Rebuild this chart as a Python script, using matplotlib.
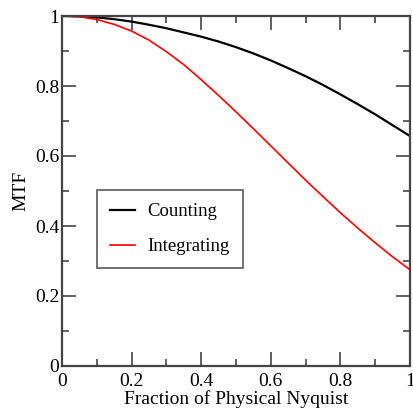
import matplotlib
matplotlib.use("Agg")
import matplotlib.pyplot as plt
from matplotlib.ticker import MultipleLocator

x = [0.0, 0.05, 0.1, 0.15, 0.2, 0.25, 0.3, 0.35, 0.4, 0.45, 0.5,
     0.55, 0.6, 0.65, 0.7, 0.75, 0.8, 0.85, 0.9, 0.95, 1.0]
counting = [1.0, 0.999, 0.996, 0.991, 0.984, 0.975, 0.965, 0.953, 0.941, 0.927, 0.911,
            0.893, 0.873, 0.851, 0.828, 0.803, 0.776, 0.748, 0.719, 0.688, 0.657]
integrating = [1.0, 0.998, 0.99, 0.976, 0.957, 0.931, 0.898, 0.861, 0.818, 0.773, 0.726,
               0.678, 0.629, 0.58, 0.531, 0.484, 0.438, 0.394, 0.352, 0.312, 0.275]
series_labels = ["Counting", "Integrating"]
xlabel = "Fraction of Physical Nyquist"
ylabel = "MTF"
ticks = [0, 0.2, 0.4, 0.6, 0.8, 1]
tick_labels = ["0", "0.2", "0.4", "0.6", "0.8", "1"]

plt.rcParams['font.family'] = ['Liberation Serif', 'DejaVu Serif']

fig = plt.figure(figsize=(4.14, 4.13), dpi=100)
ax = fig.add_axes([62/414, 47/413, 348/414, 350/413])

ax.plot(x, counting, color='black', lw=1.6, label=series_labels[0])
ax.plot(x, integrating, color='#ff0000', lw=1.2, label=series_labels[1])

ax.set_xlim(0, 1)
ax.set_ylim(0, 1)
ax.set_xticks(ticks)
ax.set_xticklabels(tick_labels)
ax.set_yticks(ticks)
ax.set_yticklabels(tick_labels)
ax.xaxis.set_minor_locator(MultipleLocator(0.1))
ax.yaxis.set_minor_locator(MultipleLocator(0.1))
ax.tick_params(which='both', direction='in', top=True, right=True, color='#444444', width=1.2, labelsize=14)
ax.tick_params(which='major', length=10, pad=2)
ax.tick_params(axis='x', which='major', pad=5)
ax.tick_params(which='minor', length=5)
for s in ax.spines.values():
    s.set_linewidth(1.6)
    s.set_color('#444444')

ax.set_xlabel(xlabel, fontsize=14, labelpad=0)
ax.set_ylabel(ylabel, fontsize=14, labelpad=4)

leg = ax.legend(loc='upper left', bbox_to_anchor=(0.1006, 0.503), borderaxespad=0,
                fontsize=13.5, handlelength=1.35, handletextpad=0.65, labelspacing=0.95,
                fancybox=False, framealpha=1, borderpad=0.7)
leg.get_frame().set_edgecolor('#666666')
leg.get_frame().set_linewidth(1.3)

fig.savefig("out.png", dpi=100)
